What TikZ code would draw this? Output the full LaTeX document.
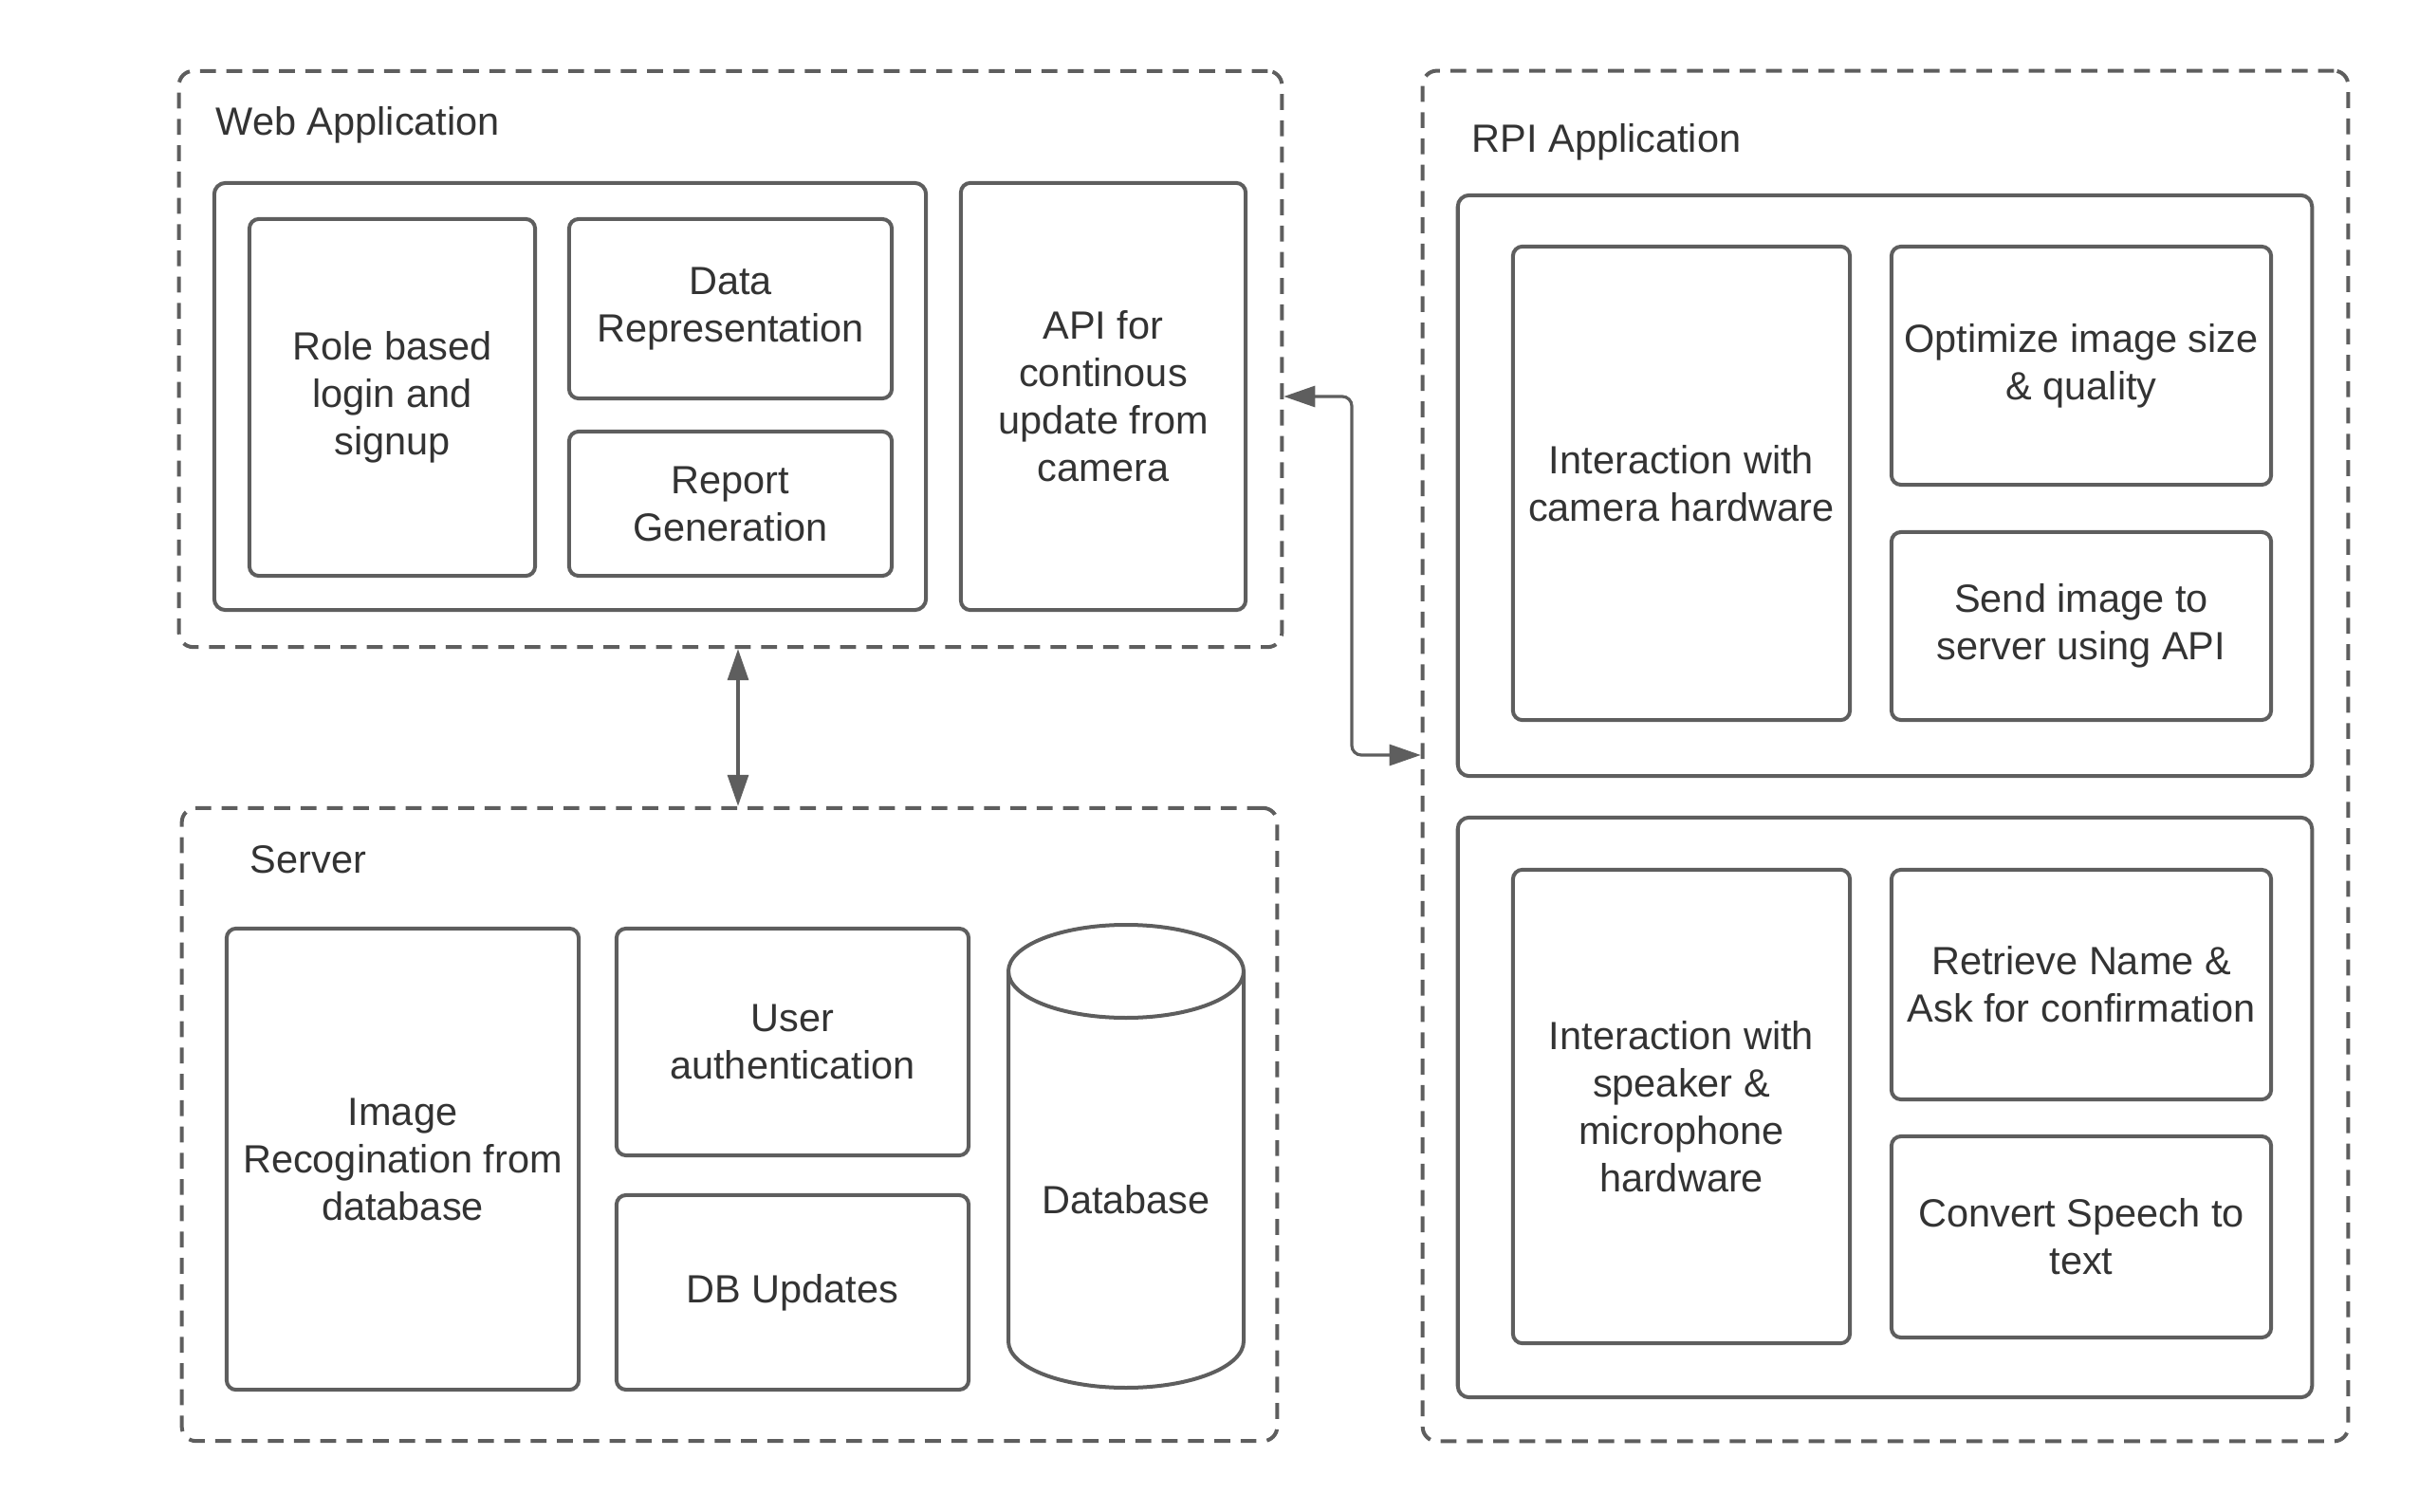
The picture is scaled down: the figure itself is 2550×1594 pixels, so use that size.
\documentclass[tikz,border=0pt]{standalone}
\usepackage{fontspec}
\setmainfont{Liberation Sans}
\usetikzlibrary{arrows.meta}
\definecolor{linegray}{HTML}{5E5E5E}
\definecolor{textgray}{HTML}{333333}
\begin{document}
\begin{tikzpicture}[x=0.01cm,y=-0.01cm,
  every node/.style={font=\fontsize{11.8}{14.2}\selectfont, text=textgray},
  box/.style={draw=linegray, line width=0.4mm, rounded corners=1mm, align=center, inner sep=0pt},
  group/.style={box, rounded corners=1.2mm},
  zone/.style={draw=linegray, line width=0.4mm, rounded corners=1.5mm, dash pattern=on 1.67mm off 1.1mm, inner sep=0pt},
  label/.style={anchor=base west, inner sep=0pt},
  conn/.style={draw=linegray, line width=0.32mm, {Triangle[length=3.3mm,width=2.2mm]}-{Triangle[length=3.3mm,width=2.2mm]}}
]
\useasboundingbox (0,0) rectangle (2550,1594);

% --- Web application ---
\node[zone, minimum width=11.62cm, minimum height=6.07cm] (web) at (770,378.5) {};
\node[label] (webt) at (227,143) {Web Application};
\node[group, minimum width=7.50cm, minimum height=4.50cm] (webg) at (601,418) {};
\node[box, minimum width=3.01cm, minimum height=3.76cm] (role) at (413.5,419) {Role based\\login and\\signup};
\node[box, minimum width=3.40cm, minimum height=1.89cm] (drep) at (770,325.5) {Data\\Representation};
\node[box, minimum width=3.40cm, minimum height=1.52cm] (rep) at (770,531) {Report\\Generation};
\node[box, minimum width=3.00cm, minimum height=4.50cm] (api) at (1163,418) {API for\\continous\\update from\\camera};

% --- Server ---
\node[zone, minimum width=11.54cm, minimum height=6.67cm] (srv) at (769,1185.5) {};
\node[label] (srvt) at (263,920) {Server};
\node[box, minimum width=3.71cm, minimum height=4.86cm] (img) at (424.5,1222) {Image\\Recogination from\\database};
\node[box, minimum width=3.71cm, minimum height=2.39cm] (auth) at (835.5,1098.5) {User\\authentication};
\node[box, minimum width=3.71cm, minimum height=2.05cm] (dbu) at (835.5,1362.5) {DB Updates};
% database drawn as a cylinder
\draw[draw=linegray, line width=0.4mm] (1187,1024) ellipse [x radius=124, y radius=49];
\draw[draw=linegray, line width=0.4mm] (1063,1024) -- (1063,1414)
  arc[start angle=180, end angle=0, x radius=124, y radius=49] -- (1311,1024);
\node (db) at (1187,1265) {Database};

% --- RPI application ---
\node[zone, minimum width=9.75cm, minimum height=14.44cm] (rpi) at (1987.5,797) {};
\node[label] (rpit) at (1551,161) {RPI Application};
\node[group, minimum width=9.00cm, minimum height=6.12cm] (rpig1) at (1987,512) {};
\node[box, minimum width=3.55cm, minimum height=4.99cm] (cam) at (1772.5,509.5) {Interaction with\\camera hardware};
\node[box, minimum width=4.00cm, minimum height=2.51cm] (opt) at (2194,385.5) {Optimize image size\\\& quality};
\node[box, minimum width=4.00cm, minimum height=1.98cm] (send) at (2194,660) {Send image to\\server using API};
\node[group, minimum width=9.00cm, minimum height=6.11cm] (rpig2) at (1987,1167.5) {};
\node[box, minimum width=3.55cm, minimum height=4.99cm] (spk) at (1772.5,1166.5) {Interaction with\\speaker \&\\microphone\\hardware};
\node[box, minimum width=4.00cm, minimum height=2.42cm] (ret) at (2194,1038) {Retrieve Name \&\\Ask for confirmation};
\node[box, minimum width=4.00cm, minimum height=2.12cm] (conv) at (2194,1304) {Convert Speech to\\text};

% --- Connectors ---
\coordinate (vx) at (778,760);
\draw[conn] (vx |- web.south) -- (vx |- srv.north);

\coordinate (ya) at (1400,418);
\coordinate (yb) at (1400,796);
\coordinate (ex) at (1425,600);
\draw[conn, rounded corners=1mm] (web.east |- ya) -- (ex |- ya) -- (ex |- yb) -- (rpi.west |- yb);
\end{tikzpicture}
\end{document}
